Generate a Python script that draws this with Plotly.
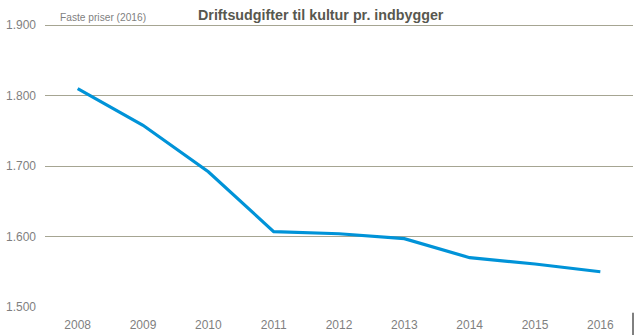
import plotly.graph_objects as go

years = ["2008", "2009", "2010", "2011", "2012", "2013", "2014", "2015", "2016"]
values = [1810, 1758, 1692, 1607, 1604, 1597, 1570, 1561, 1550]
y_ticks = [1500, 1600, 1700, 1800, 1900]

fig = go.Figure()
fig.add_trace(go.Scatter(x=years, y=values, mode="lines",
                         line=dict(color="#0093D8", width=3.2), hoverinfo="skip"))

fig.update_layout(
    width=635, height=335,
    margin=dict(l=45, r=2, t=21, b=28),
    paper_bgcolor="white", plot_bgcolor="white",
    separators=",.",
    showlegend=False,
    font=dict(family="Liberation Sans Narrow, Liberation Sans, Arial", color="#7F7F7F", size=12),
    xaxis=dict(type="category", showgrid=False, showline=False, zeroline=False,
               ticks="", ticklabelstandoff=9,
               tickfont=dict(size=12, color="#7F7F7F"), range=[-0.5, 8.5]),
    yaxis=dict(range=[1500, 1906], tickvals=y_ticks, tickformat=",.0f",
               showgrid=True, gridcolor="#A6A592", gridwidth=1, zeroline=False,
               showline=False, ticks="", ticklabelstandoff=8,
               tickfont=dict(size=12, color="#7F7F7F")),
)

fig.add_annotation(text="Faste priser (2016)", xref="paper", yref="paper",
                   x=0.0, y=1.0, xanchor="left", yanchor="bottom", yshift=-3, xshift=14,
                   showarrow=False, borderpad=0,
                   font=dict(size=10.2, color="#7F7F7F"))
fig.add_annotation(text="<b>Driftsudgifter til kultur pr. indbygger</b>", xref="paper", yref="paper",
                   x=0.47, y=1.0, xanchor="center", yanchor="bottom", yshift=-4,
                   showarrow=False, font=dict(size=14.3, color="#58584F",
                                              family="Liberation Sans Narrow, Liberation Sans, Arial"))
fig.add_shape(type="line", xref="paper", yref="paper", x0=1.0, x1=1.0, y0=-0.02, y1=-0.11,
              line=dict(color="black", width=1))

fig.write_html("out.html")
